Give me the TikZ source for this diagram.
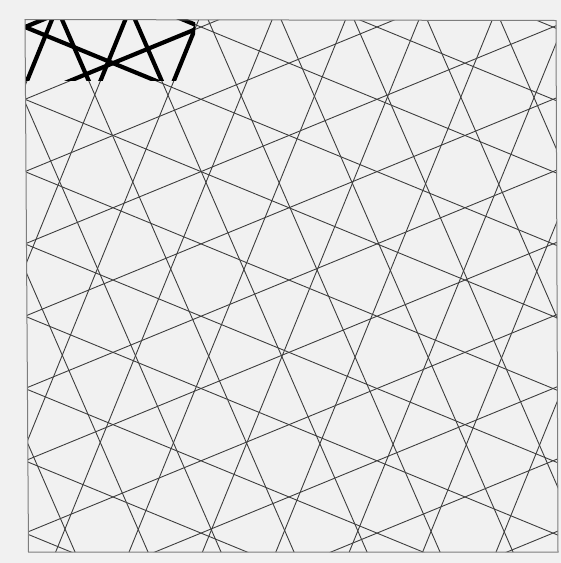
\documentclass[tikz,border=0pt]{standalone}
\definecolor{paper}{RGB}{241,241,241}
\definecolor{inkgrey}{RGB}{62,62,62}
\definecolor{framegrey}{RGB}{125,125,125}
\usetikzlibrary{calc}

\newcommand{\drawlattice}[1]{%
  \foreach \i in {0,...,9} {
    \pgfmathsetmacro\a{52+73.4*\i}
    \draw[#1] ({\a+69.5/2.459},-50) -- ({\a-600.5/2.459},620);
  }
  \foreach \j in {-3,...,6} {
    \pgfmathsetmacro\b{62+73*\j}
    \draw[#1] ({\b-69.5/2.295},-50) -- ({\b+600.5/2.295},620);
  }
  \foreach \k in {-3,...,7} {
    \pgfmathsetmacro\c{27+72.3*\k}
    \draw[#1] (-20,{\c-45*0.4108}) -- (600,{\c+575*0.4108});
  }
  \foreach \k in {0,...,10} {
    \pgfmathsetmacro\d{27+72.3*\k}
    \draw[#1] (-20,{\d+45*0.4108}) -- (600,{\d-575*0.4108});
  }
}

\begin{document}
\begin{tikzpicture}[x=1pt, y=-1pt,
  thinline/.style={draw=inkgrey, line width=0.9pt},
  boldline/.style={draw=black, line width=4.2pt},
  frameline/.style={draw=framegrey, line width=1pt}
]
  \fill[paper] (0,0) rectangle (561,563);
  \coordinate (nw) at (25,19.5);
  \coordinate (ne) at (556,20.5);
  \coordinate (se) at (558,552);
  \coordinate (sw) at (28.5,552);

  \begin{scope}
    \clip (nw) -- (ne) -- (se) -- (sw) -- cycle;
    \drawlattice{thinline}
  \end{scope}

  \begin{scope}
    \clip (25,19.5) rectangle (195,80);
    \drawlattice{boldline}
  \end{scope}

  \draw[frameline] (nw) -- (ne) -- (se) -- (sw) -- cycle;
\end{tikzpicture}
\end{document}
